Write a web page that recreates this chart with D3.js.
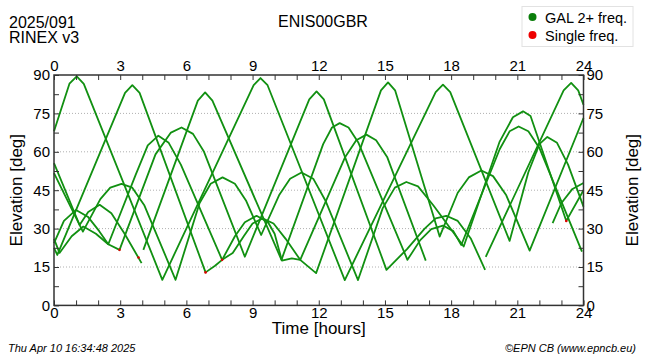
<!DOCTYPE html>
<html>
<head>
<meta charset="utf-8">
<script src="https://cdn.jsdelivr.net/npm/d3@7"></script>
<style>
  body { margin: 0; background: #fff; }
  svg { font-family: "Liberation Sans", Arial, sans-serif; }
</style>
</head>
<body>
<div id="chart"></div>
<script>
// elevation tracks, [hour, elevation deg]
var tracks = [
  [[0,68],[0.7,86.6],[1.03,89.5],[1.35,86.5],[4.91,10],[9.05,86],[9.36,88.8],[9.68,86],[13.18,9.9],[17.3,83.3],[17.63,86.2],[17.96,83.3],[20.65,25.2],[21.5,52],[22.0,63],[22.36,65.8],[22.8,63.5],[23.3,55],[24,38.6]],
  [[0,22.5],[0.15,19.7],[3.22,83],[3.55,86],[3.88,83],[6.87,12.9],[7.3,15.5],[7.62,17.8],[8.2,27],[8.65,32.5],[9.18,35],[9.7,32.5],[10.0,28],[10.33,17.5],[10.78,18.4],[11.16,17.8],[11.88,12.6],[14.82,84],[15.14,87.1],[15.46,84],[17.48,26.9],[18.3,44],[18.8,50],[19.37,52.7],[19.9,50.5],[20.5,43],[21.56,21.4],[24,73.2]],
  [[4.05,21.7],[6.52,80],[6.85,83.2],[7.18,80],[10.31,17.8],[12.2,63],[12.6,69.5],[12.95,71.2],[13.35,69.5],[13.8,63.5],[16.02,17.8],[16.6,25.5],[17.1,29.8],[17.63,31.2],[18.1,29],[18.46,23.6],[20.2,61],[20.65,68],[21.06,69.9],[21.5,68],[22.0,61.5],[23.93,21]],
  [[0,55.6],[1.16,31.4],[1.55,36.5],[2.07,39.3],[2.6,36],[3.2,28],[3.97,16.5]],
  [[0,51.7],[1.31,28.8],[2.1,41.5],[2.55,46],[3.06,47.5],[3.55,46],[4.1,39],[5.51,10],[6.6,40],[7.1,47.5],[7.64,50],[8.2,47.5],[8.7,41],[9.39,27.5],[10.2,43],[10.7,49.5],[11.22,51.9],[11.75,49.5],[12.3,41],[13.78,9.9],[14.9,38],[15.45,46],[15.97,48.2],[16.5,46.5],[17.2,39],[18.57,23],[20.2,64],[20.8,73.5],[21.26,75.8],[21.6,74],[23.22,33],[24,45]],
  [[0,24.3],[0.45,33],[1.0,37.3],[1.55,34.5],[2.05,29],[2.46,23.9],[3.7,51],[4.25,62.5],[4.73,66.3],[5.2,63.5],[5.75,55],[7.62,17.8]],
  [[0,26],[0.25,20.5],[0.8,27],[1.33,30.8],[1.9,28],[2.46,23.9],[2.97,21.7],[4.6,59],[5.3,67.5],[5.78,69.5],[6.3,67],[6.8,60],[8.65,19],[11.57,80.5],[11.9,83.6],[12.23,80.5],[15.07,13.9],[16.0,22],[16.8,30],[17.3,34],[17.78,35],[18.3,33],[18.9,26],[19.54,13.9]],
  [[7.62,17.8],[8.1,20.5],[8.6,27],[9.0,32],[9.45,34],[9.95,32],[10.5,26],[11.16,17.8],[13.2,58],[13.7,64.5],[14.16,66.7],[14.6,64.5],[15.1,58],[16.85,17.5]],
  [[19.57,19],[23.1,84],[23.44,86.9],[23.76,84],[24,78.4]],
  [[22.6,32.1],[23.0,40],[23.5,45.5],[24,47.8]]
];
// single frequency epochs
var singles = [[2.97,21.7],[3.83,18.7],[6.87,12.9],[7.62,17.8],[23.22,33]];

var hourTicks = [0,3,6,9,12,15,18,21,24];
var elevTicks = [0,15,30,45,60,75,90];
var gridLevels = [15,30,45,60,75];

var W = 650, H = 360;
var green = "#119011";

var svg = d3.select("#chart").append("svg")
  .attr("width", W)
  .attr("height", H);

var x = d3.scaleLinear().domain([0, 24]).range([54, 583.5]);
var y = d3.scaleLinear().domain([0, 90]).range([305.4, 75]);

// dotted grid
svg.append("g")
  .selectAll("line")
  .data(gridLevels)
  .enter()
  .append("line")
  .attr("x1", x(0))
  .attr("x2", x(24))
  .attr("y1", function (d) { return y(d); })
  .attr("y2", function (d) { return y(d); })
  .attr("stroke", "#b0b0b0")
  .attr("stroke-width", 1)
  .attr("stroke-dasharray", "1,2");

// tracks
var line = d3.line()
  .x(function (d) { return x(d[0]); })
  .y(function (d) { return y(d[1]); });

svg.append("g")
  .selectAll("path")
  .data(tracks)
  .enter()
  .append("path")
  .attr("d", line)
  .attr("fill", "none")
  .attr("stroke", green)
  .attr("stroke-width", 1.8)
  .attr("stroke-linejoin", "round");

svg.append("g")
  .selectAll("circle")
  .data(singles)
  .enter()
  .append("circle")
  .attr("cx", function (d) { return x(d[0]); })
  .attr("cy", function (d) { return y(d[1]); })
  .attr("r", 1.3)
  .attr("fill", "#e00000");

// minor ticks, inward, all four sides
function tickAxis(g, axis) {
  g.call(axis);
  g.select(".domain").remove();
  g.selectAll(".tick line").attr("stroke", "#333").attr("stroke-width", 1);
}
tickAxis(svg.append("g").attr("transform", "translate(0," + y(0) + ")"),
  d3.axisBottom(x).ticks(24).tickSizeInner(-5).tickSizeOuter(0).tickFormat(""));
tickAxis(svg.append("g").attr("transform", "translate(0," + y(90) + ")"),
  d3.axisTop(x).ticks(24).tickSizeInner(-5).tickSizeOuter(0).tickFormat(""));
tickAxis(svg.append("g").attr("transform", "translate(" + x(0) + ",0)"),
  d3.axisLeft(y).tickValues(d3.range(0, 91, 7.5)).tickSizeInner(-5).tickSizeOuter(0).tickFormat(""));
tickAxis(svg.append("g").attr("transform", "translate(" + x(24) + ",0)"),
  d3.axisRight(y).tickValues(d3.range(0, 91, 7.5)).tickSizeInner(-5).tickSizeOuter(0).tickFormat(""));

// frame
svg.append("rect")
  .attr("x", x(0))
  .attr("y", y(90))
  .attr("width", x(24) - x(0))
  .attr("height", y(0) - y(90))
  .attr("fill", "none")
  .attr("stroke", "#333")
  .attr("stroke-width", 1.5);

// tick labels
function labelAxis(g, axis) {
  g.call(axis);
  g.select(".domain").remove();
  g.selectAll(".tick line").remove();
  g.selectAll("text").attr("font-size", 15).attr("fill", "#000")
    .attr("font-family", "Liberation Sans, Arial, sans-serif");
}
labelAxis(svg.append("g").attr("transform", "translate(0," + y(0) + ")"),
  d3.axisBottom(x).tickValues(hourTicks).tickSize(0).tickPadding(2));
labelAxis(svg.append("g").attr("transform", "translate(0," + y(90) + ")"),
  d3.axisTop(x).tickValues(hourTicks).tickSize(0).tickPadding(4));
labelAxis(svg.append("g").attr("transform", "translate(" + x(0) + ",0)"),
  d3.axisLeft(y).tickValues(elevTicks).tickSize(0).tickPadding(4));
labelAxis(svg.append("g").attr("transform", "translate(" + x(24) + ",0)"),
  d3.axisRight(y).tickValues(elevTicks).tickSize(0).tickPadding(3));

// axis titles
svg.append("text")
  .attr("x", (x(0) + x(24)) / 2)
  .attr("y", 334)
  .attr("text-anchor", "middle")
  .attr("font-size", 17)
  .text("Time [hours]");

svg.append("text")
  .attr("transform", "translate(22," + y(45) + ") rotate(-90)")
  .attr("text-anchor", "middle")
  .attr("font-size", 17)
  .text("Elevation [deg]");

svg.append("text")
  .attr("transform", "translate(638," + y(45) + ") rotate(-90)")
  .attr("text-anchor", "middle")
  .attr("font-size", 17)
  .text("Elevation [deg]");

// header
svg.append("text").attr("x", 9).attr("y", 28).attr("font-size", 16).text("2025/091");
svg.append("text").attr("x", 9).attr("y", 43).attr("font-size", 16).text("RINEX v3");
svg.append("text").attr("x", 323).attr("y", 27).attr("text-anchor", "middle")
  .attr("font-size", 16).text("ENIS00GBR");

// legend
var legend = svg.append("g");
legend.append("rect")
  .attr("x", 522).attr("y", 6.5).attr("width", 111).attr("height", 40)
  .attr("fill", "#fff").attr("stroke", "#e2e2e2");
var legendItems = [["GAL 2+ freq.", "#0a7d0a"], ["Single freq.", "#ee0000"]];
legend.selectAll("circle")
  .data(legendItems)
  .enter()
  .append("circle")
  .attr("cx", 532.5)
  .attr("cy", function (d, i) { return 17 + i * 18; })
  .attr("r", 4)
  .attr("fill", function (d) { return d[1]; });
legend.selectAll("text")
  .data(legendItems)
  .enter()
  .append("text")
  .attr("x", 545)
  .attr("y", function (d, i) { return 22.5 + i * 18; })
  .attr("font-size", 14.5)
  .text(function (d) { return d[0]; });

// footer
svg.append("text").attr("x", 8).attr("y", 352).attr("font-size", 11)
  .attr("font-style", "italic").text("Thu Apr 10 16:34:48 2025");
svg.append("text").attr("x", 636).attr("y", 352).attr("font-size", 11)
  .attr("font-style", "italic").attr("text-anchor", "end").text("\u00A9EPN CB (www.epncb.eu)");
</script>
</body>
</html>
